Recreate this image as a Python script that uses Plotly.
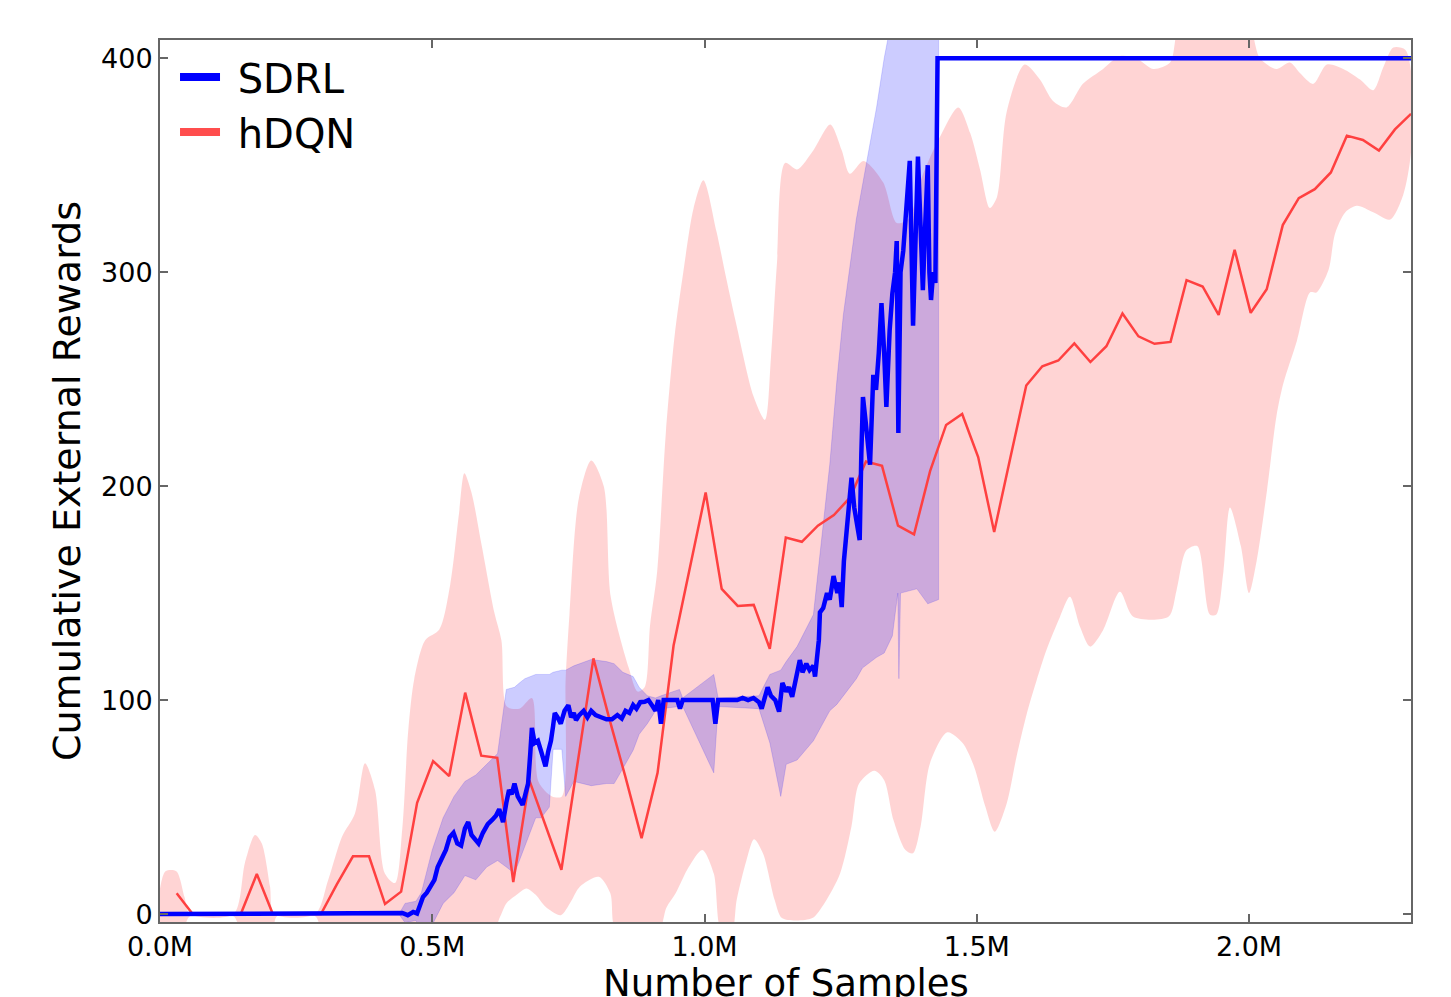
import plotly.graph_objects as go

# ---------------- data (x in millions of samples) ----------------
hdqn_x = [0.0306, 0.0600, 0.0895, 0.1189, 0.1484, 0.1778, 0.2072, 0.2367, 0.2661, 0.2956,
          0.3250, 0.3544, 0.3839, 0.4133, 0.4428, 0.4722, 0.5016, 0.5311, 0.5605, 0.5900,
          0.6194, 0.6488, 0.6783, 0.7077, 0.7372, 0.7666, 0.7960, 0.8255, 0.8549, 0.8844,
          0.9138, 0.9432, 0.9727, 1.0021, 1.0316, 1.0610, 1.0904, 1.1199, 1.1493, 1.1788,
          1.2082, 1.2376, 1.2671, 1.2965, 1.3260, 1.3554, 1.3848, 1.4143, 1.4437, 1.4732,
          1.5026, 1.5320, 1.5615, 1.5909, 1.6204, 1.6498, 1.6792, 1.7087, 1.7381, 1.7676,
          1.7970, 1.8264, 1.8559, 1.8853, 1.9148, 1.9442, 1.9736, 2.0031, 2.0325, 2.0620,
          2.0914, 2.1208, 2.1503, 2.1797, 2.2092, 2.2386, 2.2680, 2.2975]
hdqn_mean = [9.7, 0, 0, 0, 0, 18.7, 0, 0, 0, 0,
             14, 27, 27, 4.7, 10.5, 52, 71.5, 64.5, 103.5, 74,
             73, 15, 62.5, 42, 20.7, 70, 119.5, 91, 64, 35.5,
             66, 125.5, 161, 197, 152, 144, 144.5, 124, 176, 174,
             181.5, 186.5, 194.6, 211.5, 209.5, 181.5, 177.5, 207, 228.6, 233.7,
             213.6, 178.6, 213, 247, 256, 258.7, 266.7, 258, 265.4, 280.7,
             270, 266.5, 267.4, 296.3, 293.3, 280, 310.5, 281, 292, 322,
             334.6, 338.8, 346.6, 363.8, 361.8, 356.8, 366.7, 374]

hdqn_upper_x = [0.0, 0.01, 0.03, 0.045, 0.055, 0.135, 0.156, 0.1745, 0.187, 0.202,
                0.21, 0.285, 0.309, 0.334, 0.358, 0.3765, 0.395, 0.413, 0.4316, 0.445,
                0.456, 0.467, 0.487, 0.513, 0.533, 0.549, 0.559, 0.572, 0.591, 0.614,
                0.627, 0.637, 0.66, 0.683, 0.695, 0.72, 0.738, 0.745, 0.752,
                0.769, 0.792, 0.815, 0.828, 0.861, 0.877, 0.89, 0.90, 0.913, 0.929, 0.945,
                0.961, 0.98, 0.998, 1.022, 1.04, 1.059, 1.09, 1.111, 1.122, 1.133,
                1.148, 1.17, 1.2, 1.231, 1.252, 1.267, 1.292, 1.328, 1.353, 1.375,
                1.40, 1.432, 1.466, 1.488, 1.506, 1.524, 1.537, 1.555, 1.588, 1.616,
                1.64, 1.665, 1.695, 1.732, 1.763, 1.793, 1.824, 1.855, 1.87, 1.90,
                2.0, 2.01, 2.02, 2.05, 2.075, 2.094, 2.118, 2.143, 2.173, 2.204,
                2.228, 2.247, 2.265, 2.287, 2.2975]
hdqn_upper = [12, 20, 20, 8, 0, 0, 24, 37, 33, 13,
              0, 0, 16, 36, 47, 70.5, 58, 19, 14.5, 40,
              86, 110, 128, 133, 154, 187, 206, 197, 172, 141,
              128, 97, 96, 101, 62, 55, 55, 110, 140,
              194, 212, 200, 148, 115, 104, 106, 135, 160, 225, 270,
              300, 330, 343, 319, 297, 275, 242, 231, 260, 304,
              351, 348, 357, 369, 357, 346, 352, 342, 323, 325,
              345, 363, 377, 365, 348, 330, 335, 375, 397, 390,
              380, 377, 388, 395, 401, 400, 395, 398, 415, 425,
              425, 408, 400, 395, 398, 393, 388, 397, 395, 390,
              385, 396, 405, 404, 394]

hdqn_lower_x = [0.0, 0.04, 0.055, 0.135, 0.15, 0.205, 0.215, 0.285, 0.30, 0.44,
                0.61, 0.625, 0.636, 0.655, 0.673, 0.69, 0.708, 0.736, 0.755, 0.771,
                0.806, 0.827, 0.838, 0.915, 0.93, 0.947, 0.971, 0.996, 1.017, 1.031,
                1.05, 1.059, 1.077, 1.091, 1.108, 1.129, 1.143, 1.197, 1.22, 1.249,
                1.27, 1.284, 1.312, 1.33, 1.347, 1.369, 1.383, 1.397, 1.414, 1.446,
                1.474, 1.495, 1.516, 1.533, 1.555, 1.573, 1.592, 1.61, 1.628, 1.653,
                1.671, 1.69, 1.708, 1.732, 1.763, 1.7875, 1.852, 1.867, 1.885, 1.905,
                1.928, 1.94, 1.953, 1.965, 1.985, 2.0, 2.014, 2.033, 2.0506, 2.063,
                2.088, 2.112, 2.124, 2.146, 2.158, 2.177, 2.198, 2.228, 2.259, 2.283,
                2.2975]
hdqn_lower = [-8, -8, -1, -1, -8, -8, -1, -1, -8, -8,
              -8, -1, 5, 9, 12, 9, 3.4, -0.5, 6, 12.8,
              17.4, 9.7, -8, -8, 3, 9.7, 22, 30, 19, -8,
              -8, 6.5, 25, 35, 28, 6.5, -2, -2, 5, 19,
              41, 61, 67, 62.6, 44, 30, 28.4, 41, 70.4, 85,
              80, 69, 50, 38.5, 51.7, 73.5, 93.8, 109.3, 123.4, 139,
              148.3, 134, 125, 132.7, 150.6, 139, 139, 151.4, 170, 172,
              140, 140, 160, 190, 172, 150, 165, 198, 233, 248,
              268, 290.5, 290.5, 301, 318, 328, 331, 328, 324.6, 336,
              356]

sdrl_x = [0.0, 0.44, 0.445, 0.455, 0.465, 0.472, 0.483, 0.49, 0.504, 0.51,
          0.518, 0.525, 0.532, 0.539, 0.546, 0.553, 0.56, 0.566, 0.572, 0.578,
          0.585, 0.593, 0.602, 0.61, 0.617, 0.623, 0.627, 0.63, 0.636, 0.641,
          0.646, 0.651, 0.657, 0.662, 0.666, 0.671, 0.676, 0.68, 0.683, 0.688,
          0.694, 0.70, 0.704, 0.708, 0.713, 0.718, 0.722, 0.725, 0.73, 0.736,
          0.743, 0.75, 0.755, 0.76, 0.764, 0.77, 0.778, 0.785, 0.792, 0.80,
          0.81, 0.82, 0.83, 0.84, 0.848, 0.855, 0.862, 0.869, 0.875, 0.882,
          0.89, 0.897, 0.905, 0.91, 0.915, 0.92, 0.925, 0.95, 0.955, 0.96,
          1.015, 1.02, 1.025, 1.06, 1.07, 1.08, 1.09, 1.1, 1.105, 1.11,
          1.116, 1.122, 1.13, 1.137, 1.143, 1.15, 1.155, 1.161, 1.168, 1.175,
          1.18, 1.187, 1.193, 1.2, 1.203, 1.21, 1.212, 1.218, 1.225, 1.23,
          1.237, 1.244, 1.248, 1.252, 1.256, 1.261, 1.265, 1.27, 1.275, 1.28,
          1.285, 1.288, 1.291, 1.296, 1.3, 1.304, 1.31, 1.315, 1.32, 1.325,
          1.33, 1.334, 1.34, 1.345, 1.35, 1.353, 1.356, 1.36, 1.365, 1.37,
          1.377, 1.383, 1.387, 1.392, 1.397, 1.401, 1.405, 1.41, 1.413, 1.416,
          1.42, 1.424, 1.428, 2.2975]
sdrl_mean = [0, 0, 0.5, -0.5, 1, 0.3, 8, 10, 16, 22,
             27, 30, 36, 38, 33, 32, 40, 43, 37, 35,
             33, 38, 42, 44, 46, 49, 45, 43, 52, 58,
             56, 61, 55, 53, 51, 56, 61, 75, 87, 80,
             81, 76, 72, 69, 76, 81, 88, 94, 92, 89,
             95, 97.6, 92, 94, 90.6, 93, 95, 92, 95, 93,
             92, 91, 91, 93, 91.4, 95, 94, 97.7, 96, 99,
             99.2, 100, 97, 95, 100, 89, 100, 100, 96, 100,
             100, 89, 100, 100, 101, 100, 101, 99, 96, 101,
             106, 102, 100, 94.6, 108, 104, 106, 101.6, 110, 118.7,
             113, 117, 114, 116, 111, 128, 141, 143, 150, 147,
             158, 150, 155, 143.5, 165, 179, 190, 204, 190, 182,
             174.8, 215, 241.6, 230, 222, 210, 252, 245, 262, 285.5,
             262, 237, 272.8, 290, 300, 314.5, 224.8, 300, 310, 330,
             352, 275, 320, 354, 320, 291.6, 320, 350, 300, 287,
             300, 295, 400, 400]

sdrl_band_x = [0.0, 0.44, 0.45, 0.47, 0.48, 0.50, 0.52, 0.54, 0.56, 0.58,
               0.60, 0.62, 0.636, 0.651, 0.66, 0.67, 0.69, 0.70, 0.715, 0.722,
               0.738, 0.745, 0.76, 0.792, 0.82, 0.834, 0.85, 0.869, 0.88, 0.895,
               0.91, 0.92, 0.954, 0.96, 1.017, 1.025, 1.10, 1.12, 1.14, 1.15,
               1.17, 1.2, 1.23, 1.243, 1.255, 1.279, 1.29, 1.316, 1.33, 1.345,
               1.355, 1.357, 1.36, 1.39, 1.41, 1.43]
sdrl_upper = [0.5, 0.5, 5, 6, 10, 30, 45, 55, 62, 65,
              70, 75, 105, 106, 108, 110, 112, 112, 112, 113,
              114, 114, 116, 119, 118, 117, 113, 111, 106, 102,
              101, 102, 105, 101, 112, 101, 102, 112, 114, 118,
              125, 140, 210, 249, 280, 325, 340, 377, 400, 420,
              420, 420, 420, 420, 420, 420]
sdrl_lower = [-0.5, -0.5, -4, -3, -8, -5, 5, 10, 18, 16,
              22, 25, 22, 19, 25, 32, 45, 45, 50, 77,
              77, 55, 62, 60, 61, 61, 68, 76.6, 84, 89,
              95, 96, 97, 97, 66, 97, 96, 80, 55, 70,
              72, 81, 95, 98, 102, 110, 115, 120, 122, 130,
              150, 110, 150, 152, 145, 147]

x_tick_vals = [0.0, 0.5, 1.0, 1.5, 2.0]
x_tick_text = ["0.0M", "0.5M", "1.0M", "1.5M", "2.0M"]
y_tick_vals = [0, 100, 200, 300, 400]
y_tick_text = ["0", "100", "200", "300", "400"]
legend_names = ["SDRL", "hDQN"]
x_title = "Number of Samples"
y_title = "Cumulative External Rewards"

# ---------------- figure ----------------
FONT = "DejaVu Sans"
fig = go.Figure()

fig.add_trace(go.Scatter(
    x=hdqn_upper_x + hdqn_lower_x[::-1],
    y=hdqn_upper + hdqn_lower[::-1],
    fill="toself", fillcolor="rgba(255,0,0,0.17)",
    line=dict(color="rgba(255,0,0,0)", width=0, shape="spline", smoothing=0.8),
    mode="lines", hoverinfo="skip", showlegend=False))

fig.add_trace(go.Scatter(
    x=sdrl_band_x + sdrl_band_x[::-1],
    y=sdrl_upper + sdrl_lower[::-1],
    fill="toself", fillcolor="rgba(0,0,255,0.2)",
    line=dict(color="rgba(0,0,255,0.15)", width=1),
    mode="lines", hoverinfo="skip", showlegend=False))

fig.add_trace(go.Scatter(
    x=hdqn_x, y=hdqn_mean, mode="lines",
    line=dict(color="#ff4040", width=2.5), showlegend=False))

fig.add_trace(go.Scatter(
    x=sdrl_x, y=sdrl_mean, mode="lines",
    line=dict(color="#0000ff", width=4.5), showlegend=False))

# legend entries
fig.add_trace(go.Scatter(x=[None], y=[None], mode="lines", name="\u00a0" + legend_names[0],
                         line=dict(color="#0000ff", width=8)))
fig.add_trace(go.Scatter(x=[None], y=[None], mode="lines", name="\u00a0" + legend_names[1],
                         line=dict(color="#ff4d4d", width=8)))

axis_common = dict(
    showline=True, linecolor="#666666", linewidth=2, mirror="ticks",
    ticks="inside", ticklen=8, tickwidth=1.5, tickcolor="#666666",
    showgrid=False, zeroline=False, automargin=False,
    tickfont=dict(family=FONT, size=27, color="black"),
)

fig.update_layout(
    width=1451, height=997,
    margin=dict(l=160, r=40, t=40, b=75),
    paper_bgcolor="white", plot_bgcolor="white",
    font=dict(family=FONT, color="black"),
    xaxis=dict(range=[0, 2.2975], tickvals=x_tick_vals, ticktext=x_tick_text,
               **axis_common),
    yaxis=dict(range=[-3.7, 408.5], tickvals=y_tick_vals, ticktext=y_tick_text,
               title=dict(text=y_title, font=dict(family=FONT, size=38), standoff=9),
               **axis_common),
    legend=dict(x=0.012, y=0.995, xanchor="left", yanchor="top",
                bgcolor="rgba(0,0,0,0)", borderwidth=0,
                font=dict(family=FONT, size=40, color="black"),
                itemwidth=40, tracegroupgap=0),
    showlegend=True,
    annotations=[dict(text=x_title, xref="paper", yref="paper", x=0.5, y=-0.0435,
                      xanchor="center", yanchor="top", showarrow=False,
                      font=dict(family=FONT, size=37, color="black"))],
)

fig.write_html("out.html", config={"displayModeBar": False},
               post_script="document.body.style.margin='0';document.body.style.overflow='hidden';")
